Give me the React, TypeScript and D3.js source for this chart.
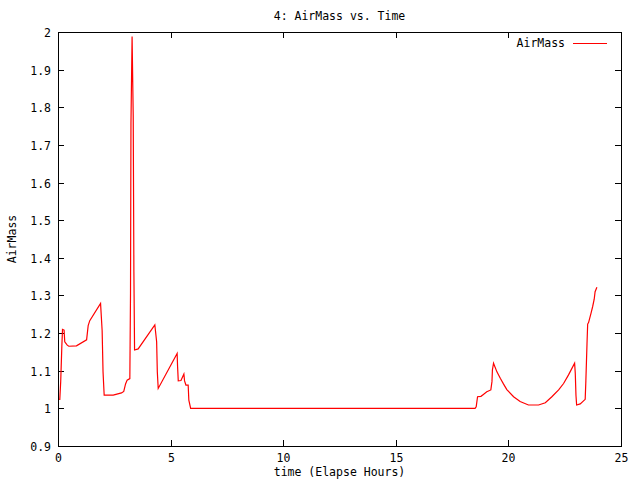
import React, { useEffect, useRef } from "react";
import * as d3 from "d3";

// elapsed hours and air mass
const hours = [
  0.05, 0.08, 0.12, 0.17, 0.2, 0.27, 0.3, 0.41, 0.48, 0.82, 1.27, 1.34, 1.41, 1.89,
  1.96, 2.0, 2.05, 2.45, 2.82, 2.92, 3.0, 3.07, 3.19, 3.22, 3.24, 3.29, 3.34, 3.37,
  3.4, 3.56, 4.3, 4.38, 4.41, 4.45, 5.29, 5.31, 5.34, 5.46, 5.59, 5.62, 5.68, 5.78,
  5.81, 5.89, 18.52, 18.57, 18.63, 18.78, 18.89, 19.04, 19.22, 19.27, 19.29, 19.34,
  19.49, 19.64, 19.78, 19.93, 20.23, 20.52, 20.89, 21.34, 21.64, 21.93, 22.23, 22.45,
  22.67, 22.94, 22.97, 23.0, 23.03, 23.19, 23.41, 23.44, 23.49, 23.52, 23.56, 23.67,
  23.74, 23.81, 23.85, 23.93,
];
const airMass = [
  1.024, 1.024, 1.071, 1.164, 1.21, 1.208, 1.177, 1.168, 1.165, 1.166, 1.182, 1.22,
  1.233, 1.279, 1.206, 1.097, 1.035, 1.035, 1.041, 1.045, 1.065, 1.075, 1.079, 1.306,
  1.758, 1.988, 1.777, 1.363, 1.155, 1.158, 1.2215, 1.177, 1.097, 1.053, 1.146, 1.111,
  1.073, 1.074, 1.091, 1.073, 1.062, 1.062, 1.022, 1.0, 1.0, 1.004, 1.031, 1.032,
  1.037, 1.044, 1.049, 1.071, 1.102, 1.12, 1.097, 1.08, 1.065, 1.05, 1.031, 1.018,
  1.009, 1.009, 1.015, 1.031, 1.049, 1.066, 1.089, 1.12, 1.093, 1.035, 1.009, 1.012,
  1.024, 1.073, 1.171, 1.224, 1.228, 1.253, 1.27, 1.29, 1.31, 1.322,
];
const xTicks = [0, 5, 10, 15, 20, 25];
const yTicks = [0.9, 1, 1.1, 1.2, 1.3, 1.4, 1.5, 1.6, 1.7, 1.8, 1.9, 2];

const W = 640;
const H = 480;
const font = "'DejaVu Sans Mono', monospace";

export default function App() {
  const ref = useRef<SVGSVGElement>(null);

  useEffect(() => {
    const svg = d3.select(ref.current);
    svg.selectAll("*").remove();

    const left = 58, right = 621, top = 32, bottom = 446;
    const x = d3.scaleLinear().domain([0, 25]).range([left, right]);
    const y = d3.scaleLinear().domain([0.9, 2]).range([bottom, top]);
    const tick = 6;

    svg.append("rect").attr("width", W).attr("height", H).attr("fill", "white");

    const g = svg.append("g").attr("shape-rendering", "crispEdges");

    // ticks, mirrored on all four sides
    yTicks.forEach((v) => {
      const py = Math.round(y(v)) + 0.5;
      g.append("line").attr("x1", left).attr("x2", left + tick).attr("y1", py).attr("y2", py).attr("stroke", "black");
      g.append("line").attr("x1", right - tick).attr("x2", right).attr("y1", py).attr("y2", py).attr("stroke", "black");
      svg.append("text")
        .attr("x", 51).attr("y", py + 4)
        .attr("text-anchor", "end")
        .attr("font-family", font).attr("font-size", 11.5)
        .text(d3.format("")(+v.toFixed(1)));
    });
    xTicks.forEach((v) => {
      const px = Math.round(x(v)) + 0.5;
      g.append("line").attr("x1", px).attr("x2", px).attr("y1", bottom).attr("y2", bottom - tick).attr("stroke", "black");
      g.append("line").attr("x1", px).attr("x2", px).attr("y1", top).attr("y2", top + tick).attr("stroke", "black");
      svg.append("text")
        .attr("x", px).attr("y", 462)
        .attr("text-anchor", "middle")
        .attr("font-family", font).attr("font-size", 11.5)
        .text(String(v));
    });

    g.append("rect")
      .attr("x", left + 0.5).attr("y", top + 0.5)
      .attr("width", right - left).attr("height", bottom - top)
      .attr("fill", "none").attr("stroke", "black");

    const line = d3.line<number>()
      .x((d, i) => x(hours[i]))
      .y((d) => y(d));

    svg.append("path")
      .attr("d", line(airMass))
      .attr("fill", "none")
      .attr("stroke", "red")
      .attr("stroke-width", 1.2);

    // legend
    svg.append("text")
      .attr("x", 565).attr("y", 47)
      .attr("text-anchor", "end")
      .attr("font-family", font).attr("font-size", 11.5)
      .text("AirMass");
    g.append("line").attr("x1", 573).attr("x2", 607).attr("y1", 43.5).attr("y2", 43.5).attr("stroke", "red");

    svg.append("text")
      .attr("x", (left + right) / 2).attr("y", 20)
      .attr("text-anchor", "middle")
      .attr("font-family", font).attr("font-size", 11.5)
      .text("4: AirMass vs. Time");

    svg.append("text")
      .attr("x", (left + right) / 2).attr("y", 476)
      .attr("text-anchor", "middle")
      .attr("font-family", font).attr("font-size", 11.5)
      .text("time (Elapse Hours)");

    svg.append("text")
      .attr("transform", `translate(16, ${(top + bottom) / 2}) rotate(-90)`)
      .attr("text-anchor", "middle")
      .attr("font-family", font).attr("font-size", 11.5)
      .text("AirMass");
  }, []);

  return (
    <div style={{ position: "fixed", left: 0, top: 0 }}>
      <svg ref={ref} width={W} height={H} />
    </div>
  );
}
